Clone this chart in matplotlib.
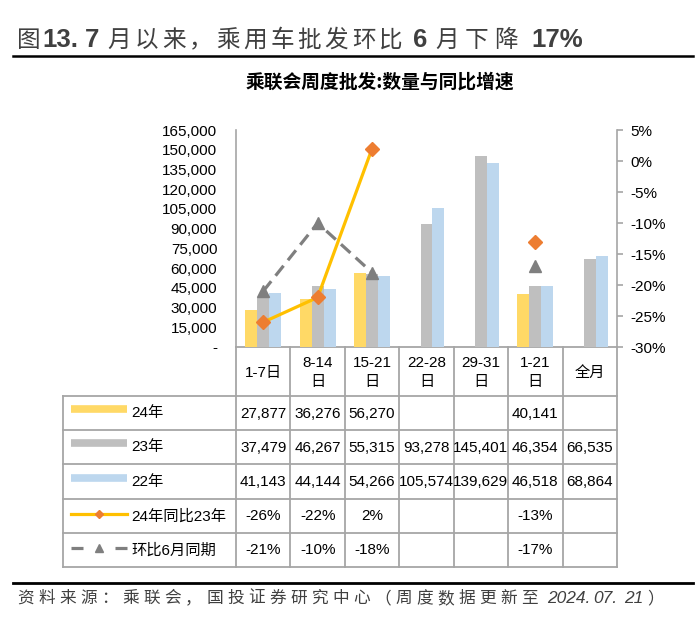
import numpy as np
import matplotlib
matplotlib.use("Agg")
import matplotlib.pyplot as plt
from matplotlib.ticker import FuncFormatter

plt.rcParams['font.family'] = ['Liberation Sans', 'Noto Sans CJK SC']

# data
categories = ["1-7日", "8-14\n日", "15-21\n日", "22-28\n日", "29-31\n日", "1-21\n日", "全月"]
sales_24 = [27877, 36276, 56270, None, None, 40141, None]
sales_23 = [37479, 46267, 55315, 93278, 145401, 46354, 66535]
sales_22 = [41143, 44144, 54266, 105574, 139629, 46518, 68864]
yoy_24_vs_23 = [-26, -22, 2, None, None, -13, None]   # %
mom_vs_june = [-21, -10, -18, None, None, -17, None]  # %
series_names = ["24年", "23年", "22年", "24年同比23年", "环比6月同期"]

c24, c23, c22 = '#FFD966', '#BFBFBF', '#BDD7EE'
c_line, c_diamond, c_dash = '#FFC000', '#ED7D31', '#7F7F7F'
border = '#A6A6A6'
dark = '#404040'


def arr(v):
    return np.array([np.nan if a is None else a for a in v], dtype=float)


W, H = 700, 618
fig = plt.figure(figsize=(7, 6.18), dpi=100)

# overlay in pixel units for title, table and footer
ov = fig.add_axes([0, 0, 1, 1])
ov.set_xlim(0, W)
ov.set_ylim(H, 0)
ov.axis('off')

left, right, top, bottom = 236, 617, 130, 347
ax = fig.add_axes([left / W, 1 - bottom / H, (right - left) / W, (bottom - top) / H])
ax.patch.set_alpha(0)

x = np.arange(len(categories))
bw = 0.22
ax.bar(x - bw, arr(sales_24), bw, color=c24, zorder=2)
ax.bar(x, arr(sales_23), bw, color=c23, zorder=2)
ax.bar(x + bw, arr(sales_22), bw, color=c22, zorder=2)
ax.set_xlim(-0.5, len(categories) - 0.5)
ax.set_ylim(0, 165000)
ax.set_yticks(np.arange(0, 165001, 15000))
ax.yaxis.set_major_formatter(FuncFormatter(lambda v, p: '-' if v == 0 else f'{int(v):,}'))
ax.tick_params(axis='y', length=0, pad=13.5, labelsize=11)
ax.set_xticks([])
for s in ['top', 'right', 'bottom']:
    ax.spines[s].set_visible(False)
ax.spines['left'].set_color(border)
ax.spines['left'].set_linewidth(1.2)

ax2 = ax.twinx()
ax2.plot(x, arr(mom_vs_june), color=c_dash, lw=2.3, ls=(0, (4, 2.2)),
         marker='^', ms=8.5, mfc=c_dash, mec=c_dash)
ax2.plot(x, arr(yoy_24_vs_23), color=c_line, lw=2.3,
         marker='D', ms=7, mfc=c_diamond, mec=c_diamond)
ax2.set_ylim(-30, 5)
ax2.set_yticks(range(-30, 6, 5))
ax2.yaxis.set_major_formatter(FuncFormatter(lambda v, p: f'{v:.0f}%'))
ax2.tick_params(axis='y', length=4, width=1.2, color=border, pad=5.5, labelsize=11)
for s in ['top', 'left', 'bottom']:
    ax2.spines[s].set_visible(False)
ax2.spines['right'].set_color(border)
ax2.spines['right'].set_linewidth(1.2)

# ---- data table under the chart
tab_left = 63
col_w = (right - left) / len(categories)
row_edges = [347, 396, 430, 464, 499, 533, 567]
ov.plot([left, right], [row_edges[0]] * 2, color=border, lw=1.3)
for ye in row_edges[1:]:
    ov.plot([tab_left, right], [ye, ye], color=border, lw=1.3)
ov.plot([tab_left, tab_left], [row_edges[1], row_edges[-1]], color=border, lw=1.3)
for i in range(len(categories) + 1):
    xe = left + i * col_w
    ov.plot([xe, xe], [row_edges[0], row_edges[-1]], color=border, lw=1.3)

for i, c in enumerate(categories):
    ov.text(left + (i + 0.5) * col_w, (row_edges[0] + row_edges[1]) / 2 + 1, c,
            ha='center', va='center', fontsize=11, linespacing=1.45)


def fmt_num(v):
    return '' if v is None else f'{v:,}'


def fmt_pct(v):
    return '' if v is None else f'{v}%'


rows = [[fmt_num(v) for v in sales_24], [fmt_num(v) for v in sales_23],
        [fmt_num(v) for v in sales_22], [fmt_pct(v) for v in yoy_24_vs_23],
        [fmt_pct(v) for v in mom_vs_june]]
for r, vals in enumerate(rows):
    yc = (row_edges[r + 1] + row_edges[r + 2]) / 2
    for i, t in enumerate(vals):
        ov.text(left + (i + 0.5) * col_w, yc + 0.5, t, ha='center', va='center', fontsize=11)
    ov.text(131, yc + 0.5, series_names[r], ha='left', va='center', fontsize=11)
    ys = yc - 4 if r < 3 else yc - 2
    if r < 3:
        ov.plot([71, 127], [ys, ys], color=[c24, c23, c22][r], lw=5.5, solid_capstyle='butt')
    elif r == 3:
        ov.plot([71, 127], [ys, ys], color=c_line, lw=2.3)
        ov.plot([99], [ys], marker='D', ms=4.5, color=c_diamond)
    else:
        ov.plot([71, 83], [ys, ys], color=c_dash, lw=2.3, solid_capstyle='butt')
        ov.plot([115, 127], [ys, ys], color=c_dash, lw=2.3, solid_capstyle='butt')
        ov.plot([99], [ys], marker='^', ms=6, color=c_dash)


# ---- letter-spaced heading and source line (runs start at given x)
def spaced(y0, parts):
    for x0, s, adv, kw in parts:
        if adv:  # CJK: fixed cell per character
            for k, ch in enumerate(s):
                ov.text(x0 + (k + 0.5) * adv, y0, ch, ha='center', va='baseline', **kw)
        else:
            ov.text(x0, y0, s, ha='left', va='baseline', **kw)


cjk_t = dict(fontsize=17, color=dark, family=['Noto Sans CJK SC'])
lat_t = dict(fontsize=18.5, color=dark, weight='bold', family=['Liberation Sans'])
spaced(47, [(15, "图", 27, cjk_t), (42, "13.", 0, lat_t), (85, "7", 0, lat_t),
            (106, "月以来，", 27, cjk_t), (215, "乘用车批发环比", 27, cjk_t),
            (413, "6", 0, lat_t), (433, "月下降", 29, cjk_t), (531, "17%", 0, lat_t)])
ov.plot([13, 693], [56, 56], color='black', lw=1.8)

ov.text(380, 82, "乘联会周度批发:数量与同比增速", ha='center', va='center',
        fontsize=13.5, weight='bold', family=['Noto Sans CJK SC'])

cjk_f = dict(fontsize=12, color=dark, family=['Noto Sans CJK SC'])
lat_f = dict(fontsize=12.5, color=dark, style='italic', family=['Liberation Sans'])
ov.plot([13, 693], [583, 583], color='black', lw=2)
spaced(603, [(15, "资料来源：乘联会，国投证券研究中心（周度数据更新至", 21, cjk_f),
             (547, "2024.", 0, lat_f), (593, "07.", 0, lat_f), (624, "21", 0, lat_f),
             (646, "）", 20, cjk_f)])

fig.savefig("out.png", dpi=100)
